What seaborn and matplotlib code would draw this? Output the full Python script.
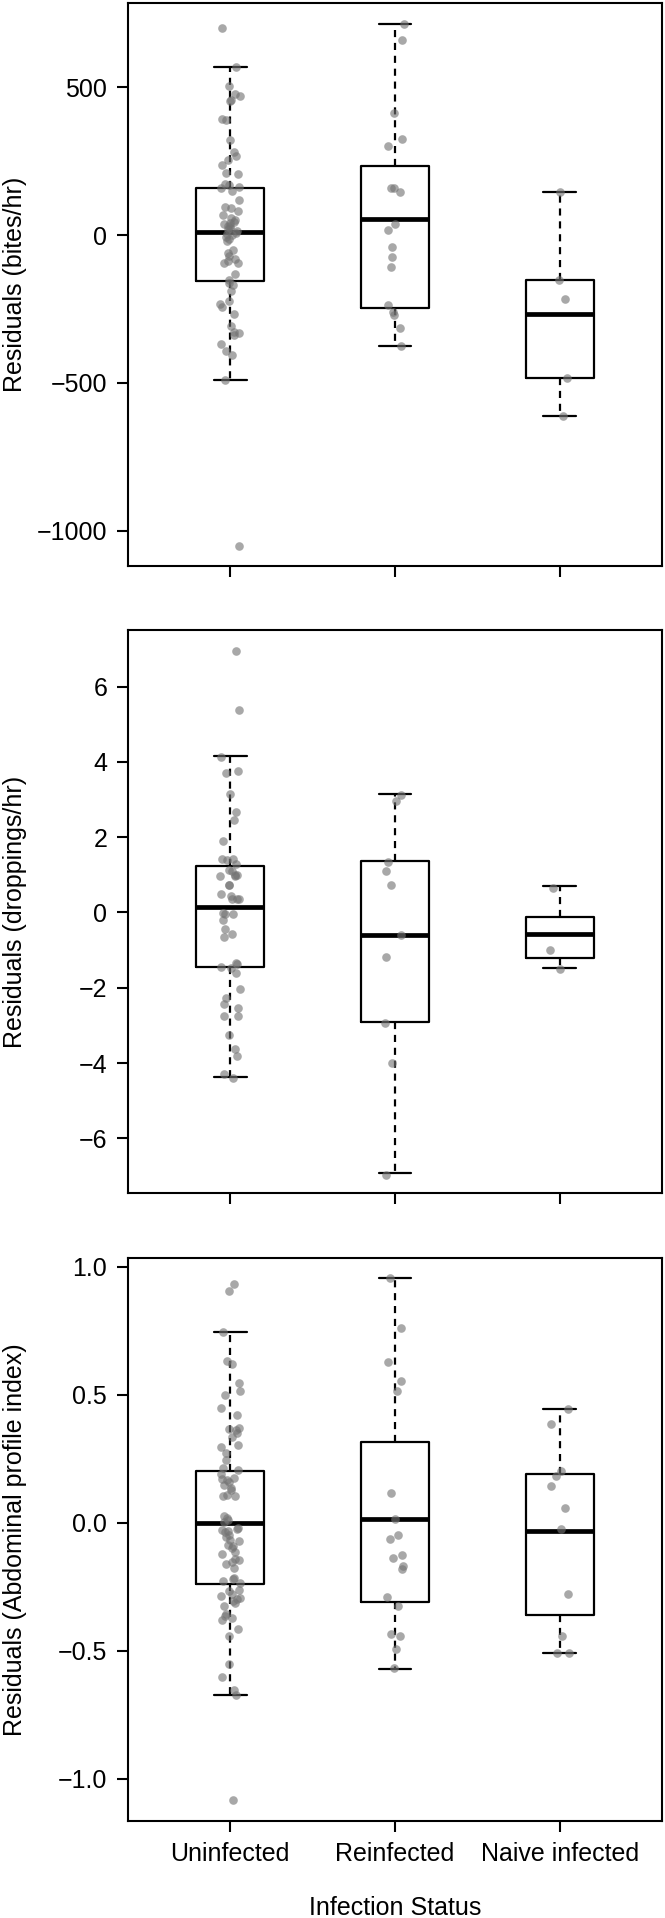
import numpy as np
import pandas as pd
import matplotlib
matplotlib.use("Agg")
import matplotlib.pyplot as plt
import seaborn as sns

# ---------------- data ----------------
categories = ["Uninfected", "Reinfected", "Naive infected"]

# Panel 1: bites/hr residuals
bites_uninf = [699, 570, 505, 476, 470, 457, 455, 391, 388, 322, 281, 267, 253, 236,
               209, 206, 173, 168, 163, 160, 150, 119, 96, 90, 80, 69, 59, 52, 44, 41,
               38, 31, 29, 24, 19, 13, 8, 4, -1, -6, -13, -21, -51, -61, -70, -81, -88,
               -94, -96, -133, -152, -163, -169, -188, -222, -234, -244, -266, -307,
               -328, -330, -338, -370, -391, -407, -489, -1051]
bites_reinf = [714, 660, 414, 326, 303, 160, 158, 144, 38, 16, -41, -75, -109, -236,
               -261, -272, -316, -375]
bites_naive = [145, -153, -217, -484, -613]
# box statistics: [whisker low, Q1, median, Q3, whisker high]
bites_box = [[-489, -155, 9, 160, 570],
             [-375, -248, 53, 232, 714],
             [-612, -484, -266, -153, 145]]

# Panel 2: droppings/hr residuals
drop_uninf = [6.95, 5.37, 4.13, 3.75, 3.71, 3.15, 2.68, 2.46, 1.90, 1.43, 1.42, 1.39,
              1.28, 1.13, 1.09, 1.00, 0.99, 0.98, 0.97, 0.73, 0.72, 0.48, 0.45, 0.37,
              0.36, 0.35, -0.02, -0.03, -0.04, -0.20, -0.44, -0.57, -0.64, -1.35, -1.36,
              -1.46, -1.48, -1.61, -2.04, -2.28, -2.44, -2.55, -2.75, -2.76, -3.26,
              -3.62, -3.80, -4.29, -4.40]
drop_reinf = [3.12, 2.96, 1.34, 1.11, 0.73, -0.60, -1.19, -2.93, -3.99, -6.96]
drop_naive = [0.66, -0.99, -1.51]
drop_box = [[-4.37, -1.45, 0.15, 1.23, 4.16],
            [-6.92, -2.90, -0.61, 1.37, 3.15],
            [-1.47, -1.22, -0.57, -0.13, 0.71]]

# Panel 3: abdominal profile index residuals
abd_uninf = [0.934, 0.908, 0.747, 0.632, 0.622, 0.547, 0.514, 0.500, 0.449, 0.422,
             0.371, 0.368, 0.364, 0.350, 0.336, 0.305, 0.296, 0.272, 0.246, 0.214,
             0.207, 0.190, 0.176, 0.172, 0.169, 0.160, 0.148, 0.138, 0.127, 0.108,
             0.106, 0.104, 0.026, 0.019, 0.012, 0.005, -0.019, -0.023, -0.028, -0.033,
             -0.037, -0.047, -0.055, -0.068, -0.071, -0.085, -0.089, -0.100, -0.115,
             -0.120, -0.141, -0.146, -0.153, -0.159, -0.176, -0.216, -0.221, -0.228,
             -0.237, -0.263, -0.268, -0.280, -0.286, -0.293, -0.298, -0.307, -0.312,
             -0.326, -0.357, -0.364, -0.373, -0.380, -0.416, -0.443, -0.551, -0.601,
             -0.655, -0.672, -1.085]
abd_reinf = [0.955, 0.761, 0.629, 0.556, 0.516, 0.118, 0.014, -0.047, -0.063, -0.124,
             -0.136, -0.167, -0.181, -0.289, -0.326, -0.434, -0.441, -0.493, -0.568]
abd_naive = [0.446, 0.385, 0.202, 0.183, 0.145, 0.059, -0.023, -0.280, -0.443,
             -0.507, -0.510]
abd_box = [[-0.672, -0.240, 0.0, 0.204, 0.747],
           [-0.570, -0.308, 0.017, 0.317, 0.955],
           [-0.510, -0.361, -0.031, 0.192, 0.446]]

ylabels = ["Residuals (bites/hr)", "Residuals (droppings/hr)",
           "Residuals (Abdominal profile index)"]
yticks = [[-1000, -500, 0, 500], [-6, -4, -2, 0, 2, 4, 6], [-1.0, -0.5, 0.0, 0.5, 1.0]]
ytick_labels = [["\u22121000", "\u2212500", "0", "500"],
                ["\u22126", "\u22124", "\u22122", "0", "2", "4", "6"],
                ["\u22121.0", "\u22120.5", "0.0", "0.5", "1.0"]]
ylims = [(-1120, 785), (-7.45, 7.5), (-1.165, 1.035)]
xlabel = "Infection Status"

panels = [
    ([bites_uninf, bites_reinf, bites_naive], bites_box),
    ([drop_uninf, drop_reinf, drop_naive], drop_box),
    ([abd_uninf, abd_reinf, abd_naive], abd_box),
]

# ---------------- style ----------------
sns.set_theme(style="ticks")
plt.rcParams["font.family"] = ["Liberation Sans", "DejaVu Sans"]
plt.rcParams["axes.unicode_minus"] = True

fig = plt.figure(figsize=(6.65, 19.18), dpi=100)
bottoms = [0.7049, 0.3780, 0.0506]
np.random.seed(7)

for i, ((groups, box), bottom) in enumerate(zip(panels, bottoms)):
    ax = fig.add_axes([0.1925, bottom, 0.8030, 0.2935])
    df = pd.DataFrame({
        "group": np.concatenate([[c] * len(g) for c, g in zip(categories, groups)]),
        "value": np.concatenate([np.asarray(g, float) for g in groups]),
    })
    stats = [dict(whislo=b[0], q1=b[1], med=b[2], q3=b[3], whishi=b[4], fliers=[])
             for b in box]
    ax.bxp(stats, positions=[0, 1, 2], widths=0.41, capwidths=0.2,
           showfliers=False, manage_ticks=False, patch_artist=False,
           boxprops=dict(color="black", linewidth=1.6),
           whiskerprops=dict(color="black", linewidth=1.6, linestyle=(0, (3.2, 2.6))),
           capprops=dict(color="black", linewidth=1.6),
           medianprops=dict(color="black", linewidth=3.4, solid_capstyle="butt"))
    sns.stripplot(data=df, x="group", y="value", order=categories, jitter=0.06,
                  color="0.45", alpha=0.62, size=6.2, linewidth=0, ax=ax, zorder=3)
    ax.set_xlim(-0.62, 2.62)
    ax.set_ylim(*ylims[i])
    ax.set_yticks(yticks[i])
    ax.set_yticklabels(ytick_labels[i])
    ax.set_xticks([0, 1, 2])
    ax.set_xticklabels(categories)
    for s in ax.spines.values():
        s.set_visible(True)
        s.set_linewidth(1.5)
        s.set_color("black")
    ax.tick_params(axis="both", length=8, width=1.5, color="black",
                   labelsize=18, labelcolor="black", direction="out")
    ax.tick_params(axis="y", pad=7)
    ax.tick_params(axis="x", pad=7)
    ax.set_ylabel(ylabels[i], fontsize=18, color="black")
    ax.yaxis.set_label_coords(-0.19, 0.5)
    if i < 2:
        ax.tick_params(axis="x", labelbottom=False)
        ax.set_xlabel("")
    else:
        ax.set_xlabel(xlabel, fontsize=18, color="black", labelpad=22)

fig.savefig("out.png", dpi=100, facecolor="white")
